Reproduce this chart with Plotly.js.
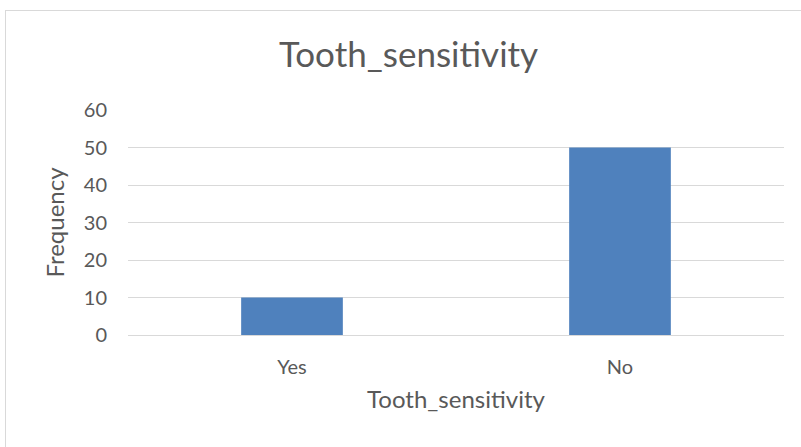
<!DOCTYPE html>
<html>
<head>
<meta charset="utf-8">
<script src="https://cdn.plot.ly/plotly-3.0.1.min.js"></script>
<style>
  html, body { margin: 0; padding: 0; background: #fff; }
  #wrap { position: relative; width: 801px; height: 447px; }
  #frame { position: absolute; left: 5px; top: 10px; width: 805px; height: 445px; border: 1px solid #d9d9d9; box-sizing: border-box; pointer-events: none; }
  #chart { position: absolute; left: 0; top: 0; width: 801px; height: 447px; }
</style>
</head>
<body>
<div id="wrap">
  <div id="chart"></div>
  <div id="frame"></div>
</div>
<script>
const categories = ["Yes", "No"];
const frequency = [10, 50];
const yTicks = [0, 10, 20, 30, 40, 50, 60];

const font = "Lato, 'Open Sans', 'Noto Sans', sans-serif";
const textColor = "#595959";

Plotly.newPlot("chart", [{
  type: "bar",
  x: categories,
  y: frequency,
  marker: { color: "#4f81bd", line: { width: 0 } },
  hoverinfo: "x+y"
}], {
  width: 801,
  height: 447,
  margin: { l: 128, r: 17, t: 110, b: 112 },
  paper_bgcolor: "rgba(0,0,0,0)",
  plot_bgcolor: "#fff",
  bargap: 0.69,
  showlegend: false,
  title: {
    text: "Tooth_sensitivity",
    font: { family: font, size: 35, color: textColor },
    x: 0.51, xanchor: "center",
    y: 0.877, yanchor: "middle"
  },
  xaxis: {
    type: "category",
    showgrid: false,
    showline: false,
    zeroline: false,
    ticks: "",
    tickfont: { family: font, size: 20, color: textColor },
    ticklabelstandoff: 18,
    title: { text: "Tooth_sensitivity", font: { family: font, size: 24, color: textColor }, standoff: 14 },
    automargin: false
  },
  yaxis: {
    range: [0, 60],
    tickvals: yTicks,
    showgrid: true,
    gridcolor: "#d9d9d9",
    gridwidth: 1,
    zeroline: true,
    zerolinecolor: "#d9d9d9",
    zerolinewidth: 1,
    showline: false,
    ticks: "",
    tickfont: { family: font, size: 20, color: textColor },
    ticklabelstandoff: 20,
    title: { text: "Frequency", font: { family: font, size: 24, color: textColor }, standoff: 12 },
    automargin: false,
    fixedrange: true
  }
}, { displayModeBar: false, staticPlot: true });
</script>
</body>
</html>
